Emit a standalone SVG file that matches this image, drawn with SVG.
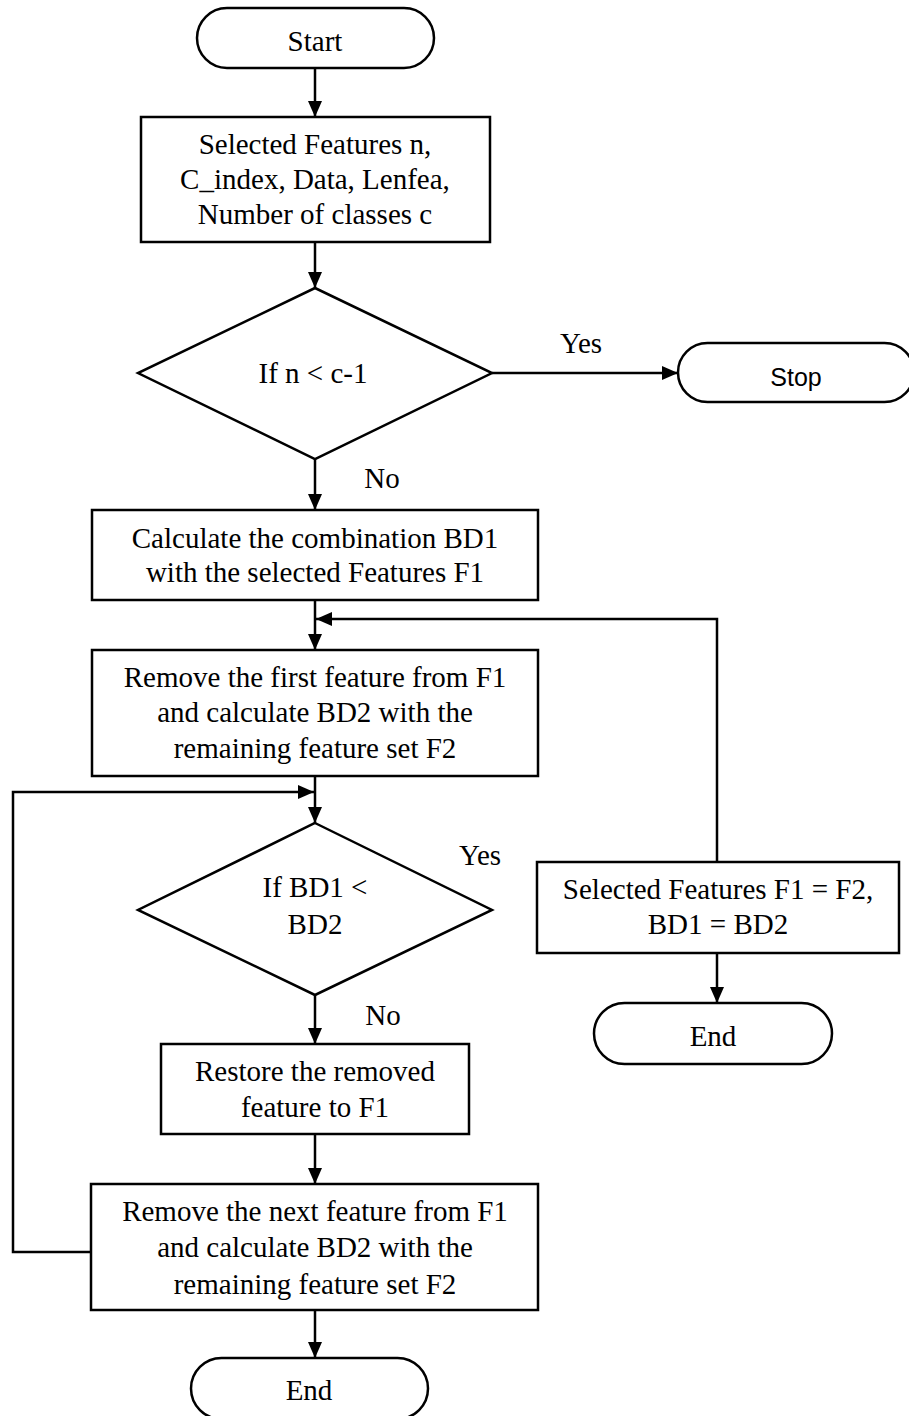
<svg xmlns="http://www.w3.org/2000/svg" width="909" height="1416" viewBox="0 0 909 1416">
<style>
.shape{fill:#fff;stroke:#000;stroke-width:2.5}
.t{font-family:"Liberation Serif","Times New Roman",serif;font-size:29px;fill:#000;text-anchor:middle}
.s{font-family:"Liberation Sans",Arial,sans-serif;font-size:25px;fill:#000;text-anchor:middle}
.c{fill:none;stroke:#000;stroke-width:2.5}
</style>
<defs>
<marker id="ah" markerUnits="userSpaceOnUse" markerWidth="16" markerHeight="14" refX="16" refY="7" orient="auto">
<path d="M0,0 L16,7 L0,14 z" fill="#000"/>
</marker>
</defs>
<rect width="909" height="1416" fill="#fff"/>
<g id="connectors">
<path class="c" d="M315,68 V117" marker-end="url(#ah)"/>
<path class="c" d="M315,242 V288" marker-end="url(#ah)"/>
<path class="c" d="M492,373 H678" marker-end="url(#ah)"/>
<path class="c" d="M315,459 V510" marker-end="url(#ah)"/>
<path class="c" d="M315,600 V650" marker-end="url(#ah)"/>
<path class="c" d="M717,862 V619 H316" marker-end="url(#ah)"/>
<path class="c" d="M315,776 V823" marker-end="url(#ah)"/>
<path class="c" d="M91,1252 H13 V792 H314" marker-end="url(#ah)"/>
<path class="c" d="M315,995 V1044" marker-end="url(#ah)"/>
<path class="c" d="M315,1134 V1184" marker-end="url(#ah)"/>
<path class="c" d="M315,1310 V1358" marker-end="url(#ah)"/>
<path class="c" d="M717,953 V1003" marker-end="url(#ah)"/>
<text class="t" x="581" y="353">Yes</text>
<text class="t" x="382" y="488">No</text>
<text class="t" x="480" y="865">Yes</text>
<text class="t" x="383" y="1025">No</text>
</g>
<g id="start">
<rect class="shape" x="197" y="8" width="237" height="60" rx="30"/>
<text class="t" x="315" y="51">Start</text>
</g>
<g id="input">
<rect class="shape" x="141" y="117" width="349" height="125"/>
<text class="t" x="315" y="154">Selected Features n,</text>
<text class="t" x="315" y="189">C_index, Data, Lenfea,</text>
<text class="t" x="315" y="224">Number of classes c</text>
</g>
<g id="decision1">
<polygon class="shape" points="315,288 492,373 315,459 138,373"/>
<text class="t" x="313" y="383">If n &lt; c-1</text>
</g>
<g id="stop">
<rect class="shape" x="678" y="343" width="236" height="59" rx="29.5"/>
<text class="s" x="796" y="386">Stop</text>
</g>
<g id="calc-bd1">
<rect class="shape" x="92" y="510" width="446" height="90"/>
<text class="t" x="315" y="548">Calculate the combination BD1</text>
<text class="t" x="315" y="582">with the selected Features F1</text>
</g>
<g id="remove-first">
<rect class="shape" x="92" y="650" width="446" height="126"/>
<text class="t" x="315" y="687">Remove the first feature from F1</text>
<text class="t" x="315" y="722">and calculate BD2 with the</text>
<text class="t" x="315" y="758">remaining feature set F2</text>
</g>
<g id="decision2">
<polygon class="shape" points="315,823 492,910 315,995 138,910"/>
<text class="t" x="315" y="897">If BD1 &lt;</text>
<text class="t" x="315" y="934">BD2</text>
</g>
<g id="update">
<rect class="shape" x="537" y="862" width="362" height="91"/>
<text class="t" x="718" y="899">Selected Features F1 = F2,</text>
<text class="t" x="718" y="934">BD1 = BD2</text>
</g>
<g id="end-right">
<rect class="shape" x="594" y="1003" width="238" height="61" rx="30.5"/>
<text class="t" x="713" y="1046">End</text>
</g>
<g id="restore">
<rect class="shape" x="161" y="1044" width="308" height="90"/>
<text class="t" x="315" y="1081">Restore the removed</text>
<text class="t" x="315" y="1117">feature to F1</text>
</g>
<g id="remove-next">
<rect class="shape" x="91" y="1184" width="447" height="126"/>
<text class="t" x="315" y="1221">Remove the next feature from F1</text>
<text class="t" x="315" y="1257">and calculate BD2 with the</text>
<text class="t" x="315" y="1294">remaining feature set F2</text>
</g>
<g id="end-bottom">
<rect class="shape" x="191" y="1358" width="237" height="61" rx="30.5"/>
<text class="t" x="309" y="1400">End</text>
</g>
</svg>
